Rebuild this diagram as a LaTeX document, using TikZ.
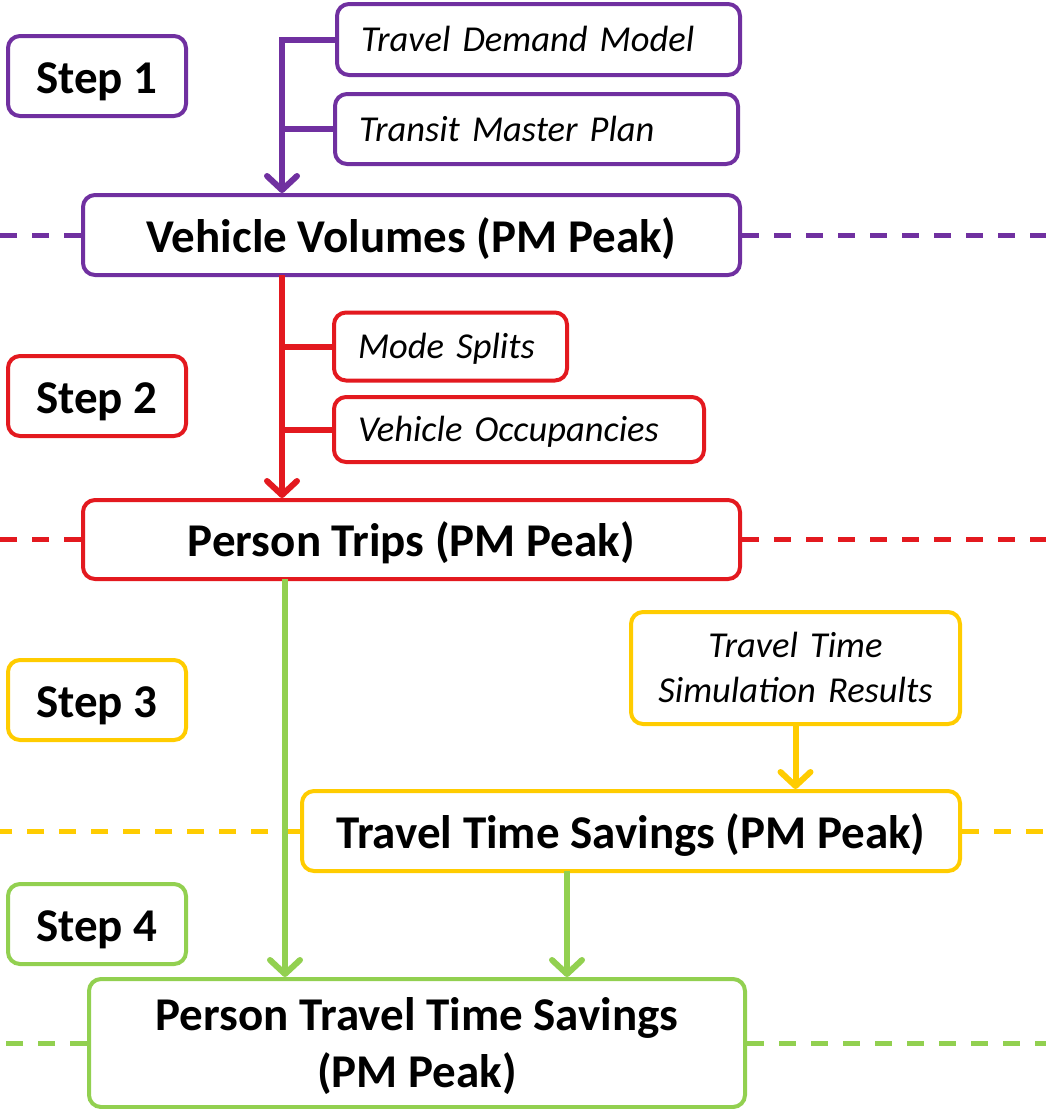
\documentclass[tikz,border=0pt]{standalone}
\usepackage{fontspec}
\setmainfont{Carlito}
\usetikzlibrary{arrows.meta}

\definecolor{purp}{HTML}{7030A0}
\definecolor{redd}{HTML}{E3191F}
\definecolor{yell}{HTML}{FFCC00}
\definecolor{gren}{HTML}{92D050}

\tikzset{
  box/.style={draw=#1, line width=4pt, rounded corners=12pt, fill=white, inner sep=0pt,
    text height=34pt, text depth=0pt,
    font=\fontsize{47}{57}\selectfont\bfseries, align=center},
  input/.style={draw=#1, line width=4pt, rounded corners=12pt, fill=white, inner xsep=24pt,
    inner ysep=0pt, text height=24pt, text depth=0pt,
    font=\fontsize{36.5}{45}\selectfont\itshape, align=left},
  flow/.style={line width=6pt, -{Straight Barb[length=14pt,width=30pt,round]}},
  feed/.style={line width=6pt},
  divide/.style={line width=5pt, dash pattern=on 17pt off 15pt},
}

\begin{document}
\begin{tikzpicture} [x=1pt,y=-1pt]

\useasboundingbox (0,0) rectangle (1046,1109);

%\draw [step=100pt, dotted] (0,0) grid (1046,1109);

\node [box=purp, minimum width=178, minimum height=80] (step1) at (97,76) {Step 1};
\node [box=redd, minimum width=178, minimum height=80] (step2) at (97,396) {Step 2};
\node [box=yell, minimum width=178, minimum height=80] (step3) at (97,700) {Step 3};
\node [box=gren, minimum width=178, minimum height=80] (step4) at (97,924) {Step 4};

\node [input=purp, text width=355, minimum height=71] (tdm) at (538.5,39.5) {Travel Demand Model};
\node [input=purp, text width=355, minimum height=70] (tmp) at (536.5,129) {Transit Master Plan};
\node [box=purp, minimum width=657, minimum height=80] (vv) at (411.5,235) {Vehicle Volumes (PM Peak)};

\node [input=redd, text width=185, minimum height=68] (ms) at (450.5,346.5) {Mode Splits};
\node [input=redd, text width=322, minimum height=65] (vo) at (519,429.5) {Vehicle Occupancies};
\node [box=redd, minimum width=657, minimum height=79] (pt) at (411.5,539.5) {Person Trips (PM Peak)};

\node [input=yell, text width=281, minimum height=112, align=center, text height=24pt, text depth=46pt] (ttsr) at (795.5,668) {Travel Time\\Simulation Results};
\node [box=yell, minimum width=658, minimum height=80] (tts) at (631,831) {Travel Time Savings (PM Peak)};

\node [box=gren, minimum width=656, minimum height=128, text height=92pt, text depth=4pt] (ptts) at (417,1043) {Person Travel Time Savings\\(PM Peak)};

% dividers
\draw [divide, purp] (vv.west) -- (vv.west -| 0,0);
\draw [divide, purp] (vv.east) -- (vv.east -| 1046,0);
\draw [divide, redd] (pt.west) -- (pt.west -| 0,0);
\draw [divide, redd] (pt.east) -- (pt.east -| 1046,0);
\draw [divide, yell] (tts.west) -- (tts.west -| 0,0);
\draw [divide, yell] (tts.east) -- (tts.east -| 1046,0);
\draw [divide, gren] (ptts.west) -- (ptts.west -| 0,0);
\draw [divide, gren] (ptts.east) -- (ptts.east -| 1046,0);

% step 1
\coordinate (ptop) at (282,37);
\draw [feed, purp] (tdm.west) -- (tdm.west -| ptop);
\draw [feed, purp] (tmp.west) -- (tmp.west -| ptop);
\draw [flow, purp] (ptop) -- (ptop |- vv.north);

% step 2
\coordinate (rtop) at (282,275);
\draw [feed, redd] (ms.west) -- (ms.west -| rtop);
\draw [feed, redd] (vo.west) -- (vo.west -| rtop);
\draw [flow, redd] (rtop) -- (rtop |- pt.north);

% step 3
\draw [flow, yell] (ttsr.south) -- (ttsr.south |- tts.north);

% step 4
\coordinate (gtop) at (285,579);
\coordinate (gmid) at (567,871);
\draw [flow, gren] (gtop) -- (gtop |- ptts.north);
\draw [flow, gren] (gmid) -- (gmid |- ptts.north);

\end{tikzpicture}
\end{document}
